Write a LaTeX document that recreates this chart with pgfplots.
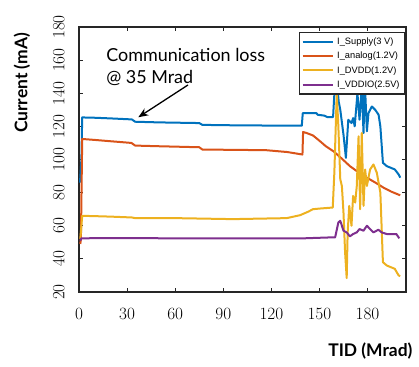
\documentclass[border=0pt]{standalone}
\usepackage{pgfplots}
\pgfplotsset{compat=1.18}
\usetikzlibrary{arrows.meta}
\usepackage{fontspec}
\setmainfont{Lato}
\newfontfamily\tickfont{Liberation Serif}
\newfontfamily\legfont{Liberation Sans}
\definecolor{mblue}{rgb}{0,0.447,0.741}
\definecolor{morange}{rgb}{0.85,0.325,0.098}
\definecolor{myellow}{rgb}{0.929,0.694,0.125}
\definecolor{mpurple}{rgb}{0.494,0.184,0.556}
\definecolor{frame}{rgb}{0.15,0.15,0.15}
\begin{document}
\begin{tikzpicture}
\begin{axis}[name=ax,
  width=327bp, height=265bp, scale only axis,
  xmin=0, xmax=204, ymin=20, ymax=180,
  xtick={0,30,...,180}, ytick={20,40,...,180},
  tick align=inside, major tick length=4bp,
  axis line style={draw=frame, line width=1.3bp},
  tick style={draw=frame, line width=0.9bp},
  xticklabel style={font=\tickfont\bfseries\fontsize{17}{17}\selectfont},
  yticklabel style={font=\tickfont\bfseries\fontsize{17}{17}\selectfont, rotate=90, anchor=south},
  xticklabel shift=13bp, yticklabel shift=11bp,
  xlabel={TID (Mrad)}, ylabel={Current (mA)},
  every axis x label/.style={at={(rel axis cs:1,0)}, anchor=east, xshift=10bp, yshift=-59bp, font=\bfseries\fontsize{17.5}{18}\selectfont},
  every axis y label/.style={at={(rel axis cs:0,0.789)}, xshift=-57bp, rotate=90, anchor=center, font=\bfseries\fontsize{17.5}{18}\selectfont},
  legend style={at={(rel axis cs:0.998,0.982)}, anchor=north east, draw=frame, line width=1.4bp, fill=white,
    font=\legfont\fontsize{9.3}{10}\selectfont, inner sep=2bp, nodes={inner sep=3.1bp}},
  legend cell align=left,
  legend image code/.code={\draw[#1, line width=2bp] (0cm,0cm) -- (1.08cm,0cm);},
  every axis plot/.append style={line width=2bp, line join=round},
]
\addplot[mblue] coordinates {
(0.6,86) (1.5,100) (2,125.4) (10,125.2) (20,124.8) (33,124.2) (35,122.8) (50,122.4) (75,122) (77,120.9) (100,120.6) (139,120.4) (139.6,128) (148,128) (149,127) (153,126.5) (155,125.6) (158.5,125.6) (159.8,148) (161,146) (162,135) (163,130) (165,115) (166.5,101) (168,124) (170,122) (171,125) (172,120) (173.7,140) (175,124) (176.4,144) (177.5,116) (178.3,147) (179.6,117) (180.6,128) (181.6,130) (182.7,132) (184.8,130) (186.9,127) (188,120) (189.6,98) (192,96) (197,94) (199.4,91) (200.4,89)
};
\addlegendentry{I\_Supply(3 V)}
\addplot[morange] coordinates {
(0.8,49) (1.2,52) (2,112.4) (10,111.8) (20,111) (32.7,110) (35,108.4) (50,108) (75,107.4) (77,106) (100,105.8) (117,105.6) (130,104.5) (139.4,103) (139.8,116.6) (142,116) (146,114.5) (150.4,111) (154,108) (158.7,105) (164,100.5) (169,96) (174,92.5) (179.6,89) (185,86) (190,83) (195,80.5) (200.4,78.4)
};
\addlegendentry{I\_analog(1.2V)}
\addplot[myellow] coordinates {
(0.8,52) (1.5,60) (2,66) (10,65.8) (20,65.5) (33,65) (35,64.6) (60,64.6) (96,64) (129.6,64.6) (138,66.4) (143,68.5) (146,70) (150.4,70.4) (158.3,71) (159.3,92) (160.8,140) (161.8,120) (163,88) (164,84) (165,68) (166,44) (167,28.4) (167.6,56) (168.6,72) (170,60) (171,78) (172.3,74) (173.3,84) (174.4,114) (175.4,70) (176.4,116) (177.5,72) (178.5,94) (179.6,84) (181.6,94) (183.7,97) (185.8,92) (188,80) (189.6,38) (192,36) (197,34) (199.4,30) (200.4,29.6)
};
\addlegendentry{I\_DVDD(1.2V)}
\addplot[mpurple] coordinates {
(0.8,51) (1.5,52.4) (20,52.6) (60,52.4) (100,52.4) (140,52.4) (158,53) (159.8,53) (161.8,62) (163,63) (164,60) (165,57) (167,56) (169,53.6) (171,55) (173.3,56) (175,58) (177.5,57) (179.6,60) (181.6,58) (183.7,56) (186.8,57.6) (188.8,56) (192,55) (198,55) (199.8,52.4)
};
\addlegendentry{I\_VDDIO(2.5V)}
\node[anchor=base west, font=\fontsize{18}{19}\selectfont, inner sep=0pt] at (axis cs:16.9,159) {Communication loss};
\node[anchor=base west, font=\fontsize{18}{19}\selectfont, inner sep=0pt] at (axis cs:16.9,146) {@ 35 Mrad};
\draw[-{Stealth[length=10bp,width=8bp]}, line width=1.3bp, black] (axis cs:68,145) -- (axis cs:37,125.5);
\end{axis}
\pgfresetboundingbox
\path[use as bounding box] ([shift={(-79bp,-75bp)}]ax.south west) rectangle ([shift={(13bp,27bp)}]ax.north east);
\end{tikzpicture}
\end{document}
